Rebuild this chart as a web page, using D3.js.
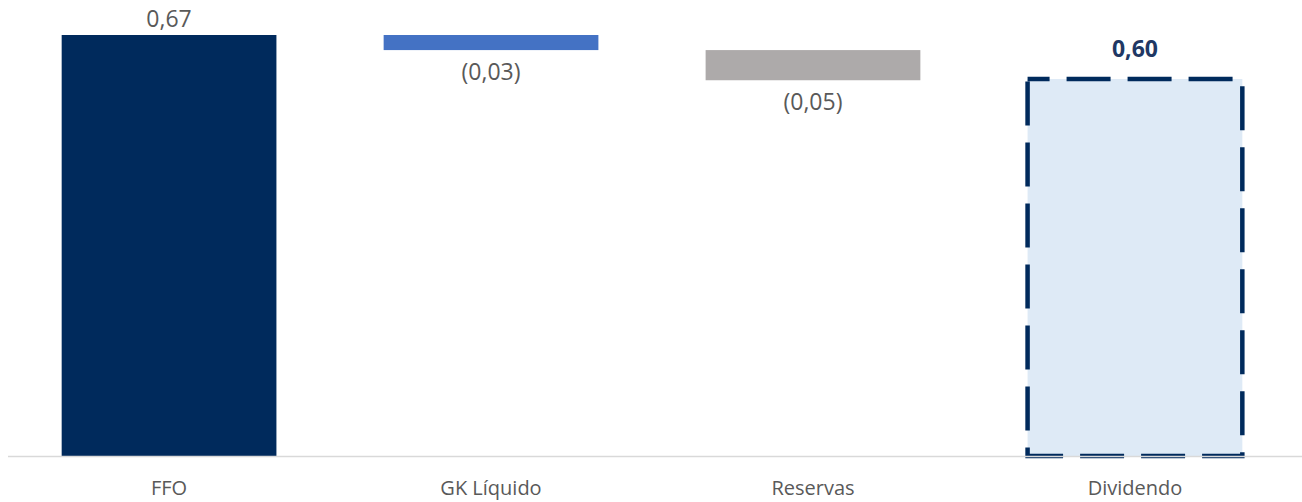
<!DOCTYPE html>
<html>
<head>
<meta charset="utf-8">
<script src="https://cdn.jsdelivr.net/npm/d3@7"></script>
<style>
  body { margin: 0; background: #fff; }
  text { font-family: "Open Sans", sans-serif; }
</style>
</head>
<body>
<svg id="chart"></svg>
<script>
const categories = ["FFO", "GK Líquido", "Reservas", "Dividendo"]
const deltas = [0.67, -0.024, -0.048, 0.60]
const kinds = ["total", "delta", "delta", "total"]
const valueLabels = ["0,67", "(0,03)", "(0,05)", "0,60"]

const width = 1302
const height = 502
const baseY = 456
const colors = ["#002A5C", "#4472C4", "#ADAAAA", "#DEEAF6"]

// running waterfall positions
var bars = []
var running = 0
for (var i = 0; i < categories.length; i++) {
    var start, end
    if (kinds[i] === "total") {
        start = 0
        end = deltas[i]
        running = deltas[i]
    } else {
        start = running
        end = running + deltas[i]
        running = end
    }
    bars.push({cat: categories[i], lo: Math.min(start, end), hi: Math.max(start, end),
               neg: deltas[i] < 0, label: valueLabels[i], color: colors[i], i: i})
}

const svg = d3.select("#chart")
    .attr("width", width)
    .attr("height", height)

const x = d3.scaleBand()
    .domain(categories)
    .range([8, 1296])
    .paddingInner(0.333)
    .paddingOuter(0.1667)

const y = d3.scaleLinear()
    .domain([0, 0.67])
    .range([baseY, 35])

svg.selectAll("rect.bar")
    .data(bars.slice(0, 3))
    .enter()
    .append("rect")
    .attr("class", "bar")
    .attr("x", d => x(d.cat))
    .attr("width", x.bandwidth())
    .attr("y", d => y(d.hi))
    .attr("height", d => y(d.lo) - y(d.hi))
    .style("fill", d => d.color)

// dividend bar, dashed outline
const dv = bars[3]
svg.append("rect")
    .attr("x", x(dv.cat))
    .attr("width", x.bandwidth())
    .attr("y", y(dv.hi))
    .attr("height", y(dv.lo) - y(dv.hi))
    .style("fill", dv.color)
    .style("stroke", "#002A5C")
    .style("stroke-width", 4.5)
    .style("stroke-dasharray", "44 17")
    .style("stroke-dashoffset", 22)

// axis line
svg.append("line")
    .attr("x1", 8)
    .attr("x2", width)
    .attr("y1", baseY + 0.5)
    .attr("y2", baseY + 0.5)
    .style("stroke", "#D9D9D9")
    .style("stroke-width", 1.5)

// value labels
svg.selectAll("text.val")
    .data(bars)
    .enter()
    .append("text")
    .attr("class", "val")
    .attr("x", d => x(d.cat) + x.bandwidth() / 2)
    .attr("y", d => d.neg ? y(d.lo) + 30 : y(d.hi) - (d.i === 3 ? 22 : 8))
    .attr("text-anchor", "middle")
    .style("font-size", "23px")
    .style("font-weight", d => d.i === 3 ? "bold" : "normal")
    .style("fill", d => d.i === 3 ? "#1F3864" : "#595959")
    .text(d => d.label)

// category labels
svg.selectAll("text.cat")
    .data(categories)
    .enter()
    .append("text")
    .attr("class", "cat")
    .attr("x", d => x(d) + x.bandwidth() / 2)
    .attr("y", 495)
    .attr("text-anchor", "middle")
    .style("font-size", "20px")
    .style("fill", "#595959")
    .text(d => d)
</script>
</body>
</html>
